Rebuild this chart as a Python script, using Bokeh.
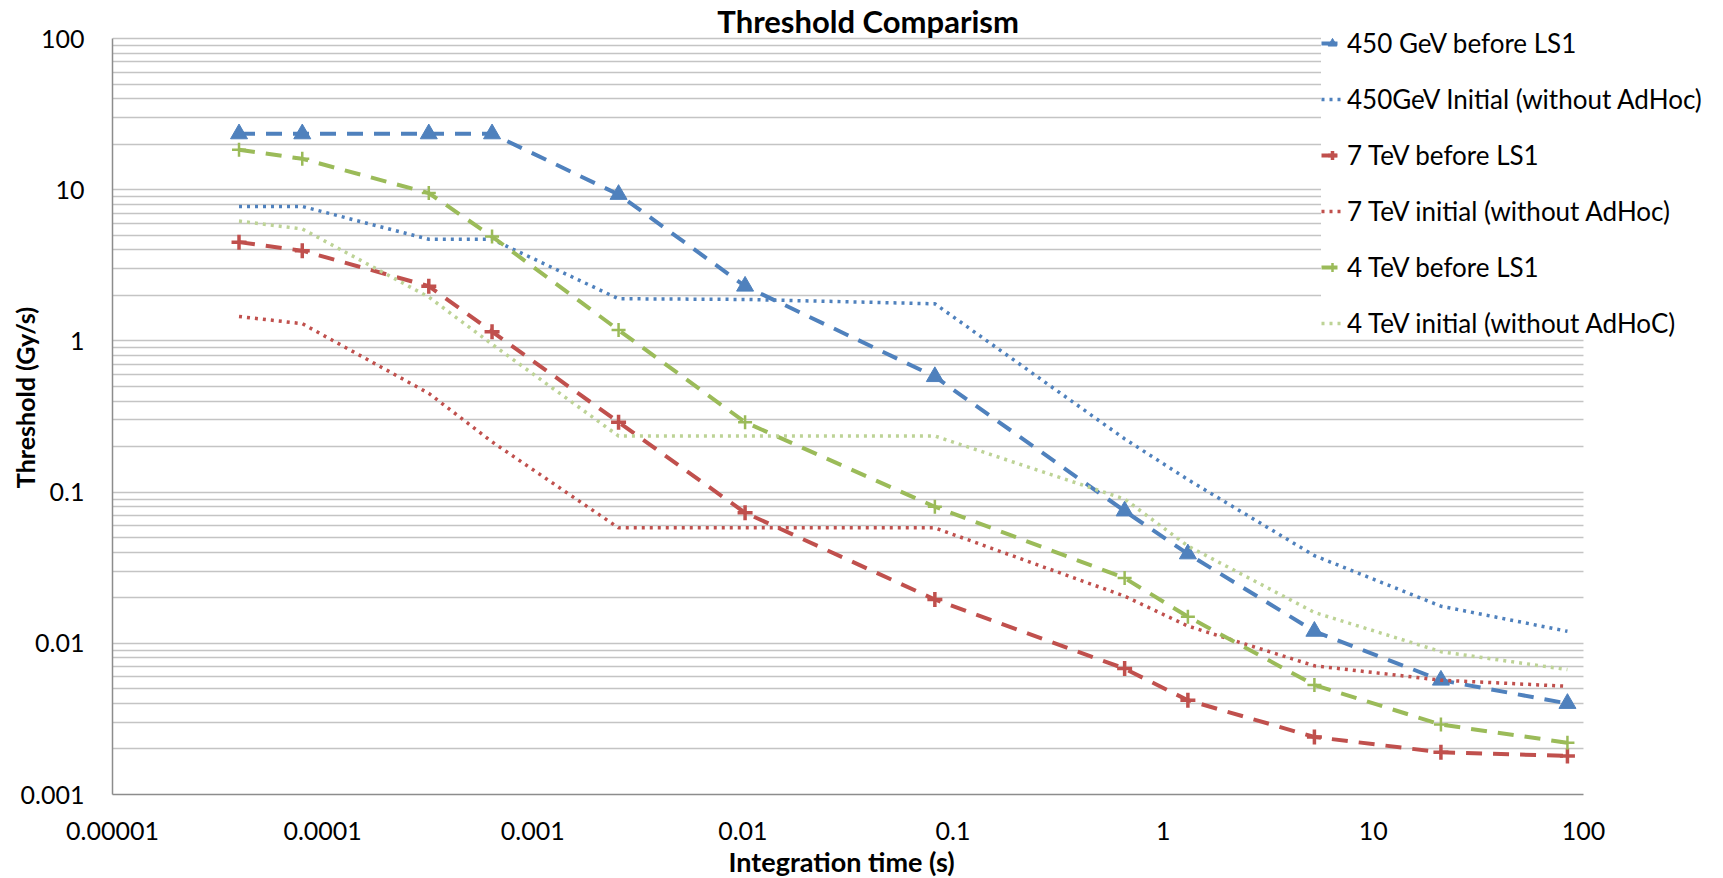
from bokeh.plotting import figure
from bokeh.models import (Range1d, FixedTicker, CustomJSTickFormatter, Legend, LegendItem,
                          BoxAnnotation, Label, Title)
from bokeh.embed import file_html
from bokeh.resources import INLINE

# ---- data ----
integration_time = [4e-5, 8e-5, 3.2e-4, 6.4e-4, 2.56e-3, 1.024e-2, 8.192e-2,
                    0.65536, 1.31072, 5.24288, 20.97152, 83.88608]

gev450_before = [23.4, 23.4, 23.4, 23.4, 9.3, 2.3, 0.58, 0.075, 0.039, 0.012, 0.0057, 0.004]
gev450_initial = [7.75, 7.75, 4.7, 4.7, 1.9, 1.88, 1.76, 0.225, 0.121, 0.038, 0.0176, 0.012]
tev7_before = [4.5, 3.95, 2.3, 1.15, 0.29, 0.073, 0.0195, 0.0068, 0.0042, 0.0024, 0.0019, 0.0018]
tev7_initial = [1.45, 1.3, 0.45, 0.215, 0.058, 0.058, 0.058, 0.0205, 0.013, 0.0071, 0.0057, 0.0052]
tev4_before = [18.4, 16.0, 9.5, 4.9, 1.18, 0.29, 0.08, 0.027, 0.015, 0.0053, 0.0029, 0.0022]
tev4_initial = [6.2, 5.5, 1.95, 0.95, 0.235, 0.235, 0.235, 0.09, 0.044, 0.016, 0.0088, 0.0067]

series_names = ["450 GeV before LS1", "450GeV Initial (without AdHoc)",
                "7 TeV before LS1", "7 TeV initial (without AdHoc)",
                "4 TeV before LS1", "4 TeV initial (without AdHoC)"]

chart_title = "Threshold Comparism"
x_title = "Integration time (s)"
y_title = "Threshold (Gy/s)"

x_ticks = [1e-5, 1e-4, 1e-3, 1e-2, 1e-1, 1, 10, 100]
x_tick_labels = ["0.00001", "0.0001", "0.001", "0.01", "0.1", "1", "10", "100"]
y_ticks = [0.001, 0.01, 0.1, 1, 10, 100]
y_tick_labels = ["0.001", "0.01", "0.1", "1", "10", "100"]

BLUE = "#4F81BD"
RED = "#C0504D"
GREEN = "#9BBB59"
LGREEN = "#BDD396"
FONT = "Lato"

# ---- layout geometry (pixels) ----
W, H = 1723, 878
LEFT, BOTTOM = 112, 84          # frame left / space under frame
XDEC, YDEC = 210.1, 151.2        # pixels per decade
AX_TOP = 38                      # pixel row of y = 100
AX_RIGHT = 1583                  # pixel column of x = 100

x_min, x_max_axis = x_ticks[0], x_ticks[-1]
y_min, y_max_axis = y_ticks[0], y_ticks[-1]
x_end = x_max_axis * 10 ** ((W - AX_RIGHT) / XDEC)
y_end = y_max_axis * 10 ** (AX_TOP / YDEC)

p = figure(width=W, height=H, x_axis_type="log", y_axis_type="log",
           x_range=Range1d(x_min, x_end), y_range=Range1d(y_min, y_end),
           output_backend="svg", toolbar_location=None, title=None,
           min_border_left=LEFT, min_border_right=0, min_border_top=0,
           min_border_bottom=BOTTOM)
p.outline_line_color = None
p.background_fill_color = "white"
p.border_fill_color = "white"

# ticks
y_minor = [m * t for t in y_ticks[:-1] for m in range(2, 10)]
yt = FixedTicker(ticks=y_ticks, minor_ticks=y_minor)
xt = FixedTicker(ticks=x_ticks, minor_ticks=[])
p.yaxis.ticker = yt
p.xaxis.ticker = xt
p.ygrid.ticker = yt

fmt_code = """
for (let i = 0; i < vals.length; i++) {
  if (Math.abs(Math.log10(tick) - Math.log10(vals[i])) < 1e-6) { return labs[i]; }
}
return '';
"""
p.xaxis.formatter = CustomJSTickFormatter(args=dict(vals=x_ticks, labs=x_tick_labels), code=fmt_code)
p.yaxis.formatter = CustomJSTickFormatter(args=dict(vals=y_ticks, labs=y_tick_labels), code=fmt_code)

for ax in (p.xaxis[0], p.yaxis[0]):
    ax.axis_line_color = "#8C8C8C"
    ax.axis_line_width = 1.5
    ax.major_tick_line_color = None
    ax.minor_tick_line_color = None
    ax.major_tick_out = 0
    ax.minor_tick_out = 0
    ax.major_label_text_font = FONT
    ax.major_label_text_font_size = "25px"
    ax.major_label_text_color = "#000000"
    ax.axis_label_text_font = FONT
    ax.axis_label_text_font_style = "bold"
    ax.axis_label_text_font_size = "25px"
    ax.axis_label_text_color = "#000000"

p.xaxis.bounds = (x_min, x_max_axis)
p.yaxis.bounds = (y_min, y_max_axis)
p.yaxis.axis_label = y_title
p.xaxis.major_label_standoff = 27
p.yaxis.major_label_standoff = 28
p.yaxis.axis_label_standoff = -22
p.yaxis.major_label_orientation = "horizontal"

# x axis title, placed under the plotted axis (left-aligned with an offset)
p.add_layout(Title(text=x_title, align="left", offset=616,
                   text_font=FONT, text_font_style="bold", text_font_size="27px",
                   text_color="#000000", standoff=0), "below")

p.xgrid.visible = False
p.ygrid.grid_line_color = "#C4C4C4"
p.ygrid.grid_line_width = 1.5
p.ygrid.minor_grid_line_color = "#C4C4C4"
p.ygrid.minor_grid_line_width = 1.5

# blank the area right of the x axis end (gridlines stop at x = 100)
p.add_layout(BoxAnnotation(left=x_max_axis, fill_color="white", fill_alpha=1.0,
                           line_color=None, level="underlay"))

# chart title, drawn inside the canvas above the grid
title_x = 10 ** (-5 + (867.5 - LEFT) / XDEC)
title_y = y_max_axis * 10 ** ((AX_TOP - 20) / YDEC)
p.add_layout(Label(x=title_x, y=title_y, text=chart_title, text_font=FONT,
                   text_font_style="bold", text_font_size="31px", text_color="#000000",
                   text_align="center", text_baseline="middle"))

DASH = "16 11"
DOT = "3 5"

items = []

r1 = p.line(integration_time, gev450_before, line_color=BLUE, line_width=4, line_dash=DASH)
m1 = p.scatter(integration_time, gev450_before, marker="triangle", size=17,
               fill_color=BLUE, line_color=BLUE)
items.append(LegendItem(label=series_names[0], renderers=[r1, m1]))

r2 = p.line(integration_time, gev450_initial, line_color=BLUE, line_width=3.5, line_dash=DOT)
items.append(LegendItem(label=series_names[1], renderers=[r2]))

r3 = p.line(integration_time, tev7_before, line_color=RED, line_width=4, line_dash=DASH)
m3 = p.scatter(integration_time, tev7_before, marker="cross", size=15,
               line_color=RED, line_width=3.5)
items.append(LegendItem(label=series_names[2], renderers=[r3, m3]))

r4 = p.line(integration_time, tev7_initial, line_color=RED, line_width=3.5, line_dash=DOT)
items.append(LegendItem(label=series_names[3], renderers=[r4]))

r5 = p.line(integration_time, tev4_before, line_color=GREEN, line_width=4, line_dash=DASH)
m5 = p.scatter(integration_time, tev4_before, marker="cross", size=14,
               line_color=GREEN, line_width=2.5)
items.append(LegendItem(label=series_names[4], renderers=[r5, m5]))

r6 = p.line(integration_time, tev4_initial, line_color=LGREEN, line_width=3.5, line_dash=DOT)
items.append(LegendItem(label=series_names[5], renderers=[r6]))

legend = Legend(items=items, location=(1209, 455), orientation="vertical")
legend.background_fill_color = "white"
legend.background_fill_alpha = 1.0
legend.border_line_color = None
legend.label_text_font = FONT
legend.label_text_font_size = "26px"
legend.label_text_color = "#000000"
legend.glyph_width = 22
legend.glyph_height = 32
legend.label_height = 32
legend.label_standoff = 4
legend.spacing = 24
legend.padding = 14
legend.margin = 0
p.add_layout(legend)

open("out.html", "w").write(file_html(p, INLINE))
